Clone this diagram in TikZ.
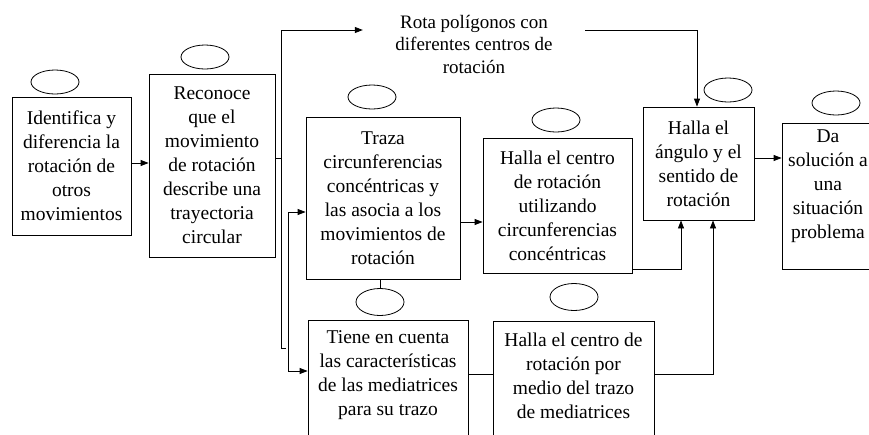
\documentclass[tikz,border=0pt]{standalone}
\usepackage{fontspec}
\setmainfont{Liberation Serif}
\usetikzlibrary{arrows.meta,shapes.geometric}
\begin{document}
\begin{tikzpicture}[x=1pt,y=-1pt,
  lw/.style={line width=0.8pt},
  box/.style={draw,lw,inner sep=0pt,align=center,font=\fontsize{19.5}{24}\selectfont},
  txt/.style={inner sep=0pt,align=center,font=\fontsize{19.5}{24}\selectfont},
  oval/.style={draw,lw,ellipse,inner sep=0pt,minimum width=48pt,minimum height=24pt},
  conn/.style={lw},
  arr/.style={lw,-{Triangle[length=8pt,width=6pt]}}]
\useasboundingbox (0,0) rectangle (869,434);
\clip (0,0) rectangle (869,434);
% boxes
\node[box,minimum width=119pt,minimum height=138pt] (ident) at (71.5,166) {Identifica y\\diferencia la\\rotación de\\otros\\movimientos};
\node[box,minimum width=126pt,minimum height=183pt] (recon) at (212,165.5) {Reconoce\\que el\\movimiento\\de rotación\\describe una\\trayectoria\\circular};
\node[box,minimum width=154pt,minimum height=162pt] (traza) at (383,198) {Traza\\circunferencias\\concéntricas y\\las asocia a los\\movimientos de\\rotación};
\node[box,minimum width=149pt,minimum height=135pt] (hcentro) at (557.5,205.5) {Halla el centro\\de rotación\\utilizando\\circunferencias\\concéntricas};
\node[box,minimum width=111pt,minimum height=113pt] (angulo) at (698.5,163.5) {Halla el\\ángulo y el\\sentido de\\rotación};
\node[box,minimum width=118pt,minimum height=146pt] (da) at (841,196) {};
\node[txt] (datxt) at (828,186) {Da\\solución a\\una\\situación\\problema};
\node[box,minimum width=160pt,minimum height=140pt] (tiene) at (388,390) {};
\node[txt] (tienetxt) at (388,375) {Tiene en cuenta\\las características\\de las mediatrices\\para su trazo};
\node[box,minimum width=161pt,minimum height=139pt] (hmed) at (573.5,390.5) {};
\node[txt] (hmedtxt) at (573.5,376) {Halla el centro de\\rotación por\\medio del trazo\\de mediatrices};
\node[txt,minimum width=222pt,font=\fontsize{19}{22.5}\selectfont] (rota) at (474,44) {Rota polígonos con\\diferentes centros de\\rotación};
% ovals
\node[oval] (eident) at (55,82) {};
\node[oval] (erecon) at (205,57) {};
\node[oval] (etraza) at (372,97) {};
\node[oval] (ehcentro) at (556,120) {};
\node[oval] (eangulo) at (728,90) {};
\node[oval] (eda) at (836,103) {};
\node[oval,minimum height=27pt] (etiene) at (380,302) {};
\node[oval,minimum height=27pt] (ehmed) at (574,297) {};
% junction coordinates
\coordinate (a1) at (140,163);
\coordinate (j1) at (281,158);
\coordinate (j1top) at (281,30);
\coordinate (j1bot) at (281,348);
\coordinate (j1stub) at (286,348);
\coordinate (j2top) at (288,212);
\coordinate (j2bot) at (288,371);
\coordinate (j3) at (697,30);
\coordinate (a4) at (470,222);
\coordinate (j6) at (681,269);
\coordinate (j7) at (480,374);
\coordinate (j8) at (713,374);
\coordinate (j9) at (768,158);
% connectors
\draw[arr] (ident.east |- a1) -- (recon.west |- a1);
\draw[conn] (recon.east |- j1) -- (j1);
\draw[conn] (j1top) -- (j1bot) -- (j1stub);
\draw[arr] (j1top) -- (rota.west |- j1top);
\draw[arr] (rota.east |- j3) -- (j3) -- (j3 |- angulo.north);
\draw[conn] (j2top) -- (j2bot);
\draw[arr] (j2top) -- (j2top -| traza.west);
\draw[arr] (j2bot) -- (j2bot -| tiene.west);
\draw[arr] (traza.east |- a4) -- (hcentro.west |- a4);
\draw[conn] (etiene.north |- traza.south) -- (etiene.north);
\draw[arr] (hcentro.east |- j6) -- (j6) -- (j6 |- angulo.south);
\draw[conn] (tiene.east |- j7) -- (hmed.west |- j7);
\draw[arr] (hmed.east |- j8) -- (j8) -- (j8 |- angulo.south);
\draw[arr] (angulo.east |- j9) -- (da.west |- j9);
\end{tikzpicture}
\end{document}
